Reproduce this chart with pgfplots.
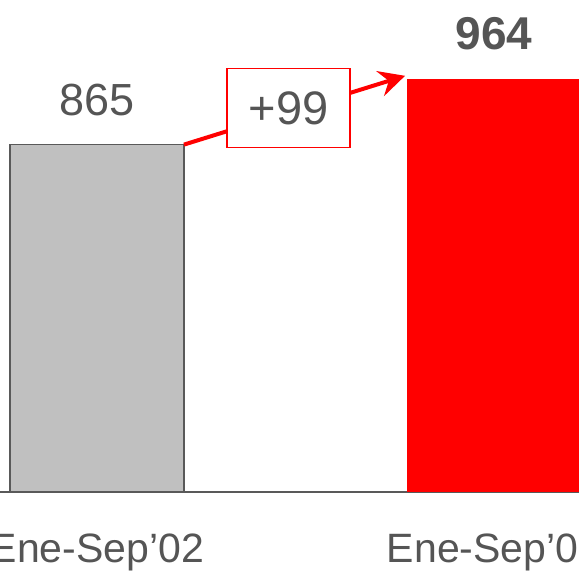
\documentclass[border=0pt]{standalone}
\usepackage{fontspec}
\setmainfont{Liberation Sans}
\usepackage{pgfplots}
\pgfplotsset{compat=1.18}
\usetikzlibrary{arrows.meta}
\definecolor{txtgray}{RGB}{85,85,85}
\definecolor{bargray}{RGB}{192,192,192}
\definecolor{edgegray}{RGB}{89,89,89}
\definecolor{hired}{RGB}{255,0,0}

\begin{document}
\begin{tikzpicture}
\useasboundingbox (0,0) rectangle (579pt,573pt);
\clip (0,0) rectangle (579pt,573pt);
\begin{axis}[
  at={(0pt,81pt)}, anchor=south west,
  scale only axis, width=579pt, height=492pt,
  xmin=-0.2443, xmax=1.2141,
  ymin=340, ymax=1083.6,
  hide y axis,
  axis x line*=bottom,
  x axis line style={draw=edgegray, line width=1.6pt, -},
  xtick={0,1},
  xticklabels={Ene-Sep’02, Ene-Sep’03},
  major tick length=0pt,
  xticklabel style={font=\fontsize{41}{48}\selectfont, text=txtgray, anchor=base, yshift=-71pt},
  ybar, bar shift=0pt, bar width=174pt,
  /pgf/number format/assume math mode=true,
  nodes near coords,
  every node near coord/.append style={anchor=base, yshift=29.5pt, text=txtgray},
]
% previous period
\addplot[fill=bargray, draw=edgegray, line width=1.2pt,
  every node near coord/.append style={font=\fontsize{45}{54}\selectfont}]
  coordinates {(0,865)};
% current period
\addplot[fill=hired, draw=none,
  every node near coord/.append style={font=\fontsize{46}{54}\selectfont\bfseries}]
  coordinates {(1,964)};
% growth arrow with the difference
\draw[hired, line width=4pt, -{Stealth[length=26pt,width=26pt,inset=9pt]}]
  (axis cs:0.219,865) -- (axis cs:0.776,969);
\node[draw=hired, fill=white, line width=1.3pt, minimum width=123pt,
  minimum height=79pt, inner sep=0pt, text=txtgray,
  font=\fontsize{47}{54}\selectfont] at (axis cs:0.4824,920.4) {+99};
\end{axis}
\end{tikzpicture}
\end{document}
